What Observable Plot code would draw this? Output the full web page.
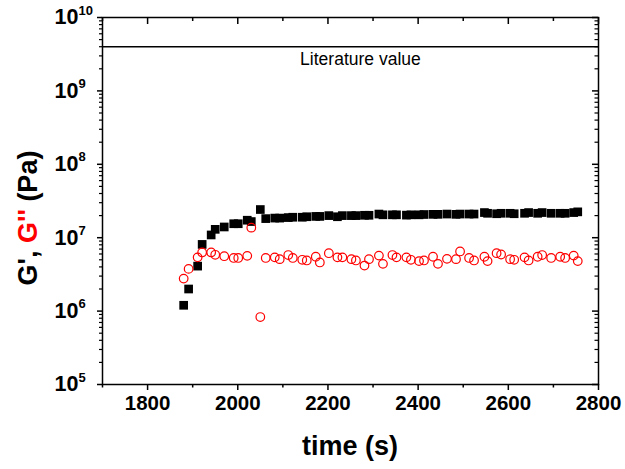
<!DOCTYPE html>
<html><head><meta charset="utf-8">
<script src="https://cdn.jsdelivr.net/npm/d3@7"></script>
<script src="https://cdn.jsdelivr.net/npm/@observablehq/plot@0.6"></script>
<style>
body{margin:0;background:#fff;}
#chart svg{font-family:"Liberation Sans",Arial,sans-serif;background:#fff;}
</style></head><body><div id="chart"></div>
<script>
const times = [1880,1891,1911,1921,1941,1950,1970,1991,2001,2021,2030,2050,
  2062,2082,2093,2112,2122,2143,2153,2173,2182,2202,2221,2232,2252,2262,2281,2291,2313,2322,2343,2352,2374,2384,2402,2413,2433,2444,2464,2484,2493,2513,2524,2547,2554,2574,2584,2604,2613,2636,2645,2665,2675,2695,2715,2726,2745,2754];
const gPrime = [1.2e6,2.0e6,4.1e6,8.1e6,1.09e7,1.3e7,1.4e7,1.55e7,1.55e7,1.73e7,1.66e7,2.42e7,
  1.82e7,1.85e7,1.85e7,1.88e7,1.9e7,1.9e7,1.93e7,1.95e7,1.95e7,2.0e7,1.93e7,2.0e7,2.0e7,2.0e7,2.02e7,2.02e7,2.1e7,2.05e7,2.05e7,2.05e7,2.03e7,2.05e7,2.05e7,2.07e7,2.08e7,2.08e7,2.1e7,2.08e7,2.1e7,2.1e7,2.1e7,2.2e7,2.15e7,2.12e7,2.15e7,2.15e7,2.12e7,2.15e7,2.2e7,2.15e7,2.2e7,2.15e7,2.15e7,2.15e7,2.2e7,2.25e7];
const gDoublePrime = [2.77e6,3.76e6,5.4e6,6.3e6,6.3e6,5.85e6,5.6e6,5.3e6,5.3e6,5.66e6,1.37e7,8.3e5,
  5.3e6,5.4e6,5.1e6,5.8e6,5.3e6,5.0e6,4.9e6,5.5e6,4.6e6,6.15e6,5.4e6,5.4e6,5.1e6,4.9e6,4.17e6,5.1e6,5.7e6,4.4e6,5.8e6,5.4e6,5.4e6,5.0e6,4.8e6,4.9e6,5.5e6,4.4e6,5.15e6,5.1e6,6.5e6,5.3e6,4.9e6,5.5e6,4.8e6,6.15e6,5.9e6,5.1e6,5.0e6,5.4e6,4.9e6,5.5e6,5.8e6,5.3e6,5.5e6,5.3e6,5.7e6,4.8e6];
const literatureValue = 4e9;
const literatureLabel = "Literature value";
const literatureLabelTime = 2272;
const majorY = [1e5,1e6,1e7,1e8,1e9,1e10];
const minorY = [];
for (const m of majorY.slice(0, -1)) for (let k = 2; k <= 9; k++) minorY.push(m * k);
const majorX = [1800,2000,2200,2400,2600,2800];
const minorX = [1700,1900,2100,2300,2500,2700];
const xTitle = "time (s)";

const data = times.map((t, i) => ({t, gp: gPrime[i], gpp: gDoublePrime[i]}));

const W = 625, H = 469, mL = 102, mR = 27, mT = 17, mB = 85;
const pw = W - mL - mR, ph = H - mT - mB;

const chart = Plot.plot({
  width: W, height: H,
  marginLeft: mL, marginRight: mR, marginTop: mT, marginBottom: mB,
  style: {fontFamily: '"Liberation Sans", Arial, sans-serif', color: "black"},
  x: {type: "linear", domain: [1700, 2800]},
  y: {type: "log", domain: [1e5, 1e10]},
  marks: [
    Plot.ruleY([literatureValue], {stroke: "black", strokeWidth: 1.5}),
    Plot.text([literatureLabel], {x: literatureLabelTime, y: literatureValue, text: d => d, dy: 13, fontSize: 17.5, lineAnchor: "middle", fill: "black"}),
    Plot.dot(data, {x: "t", y: "gp", symbol: "square", fill: "black", r: 4.9}),
    Plot.dot(data, {x: "t", y: "gpp", symbol: "circle", stroke: "#ff0000", fill: "none", r: 4.3, strokeWidth: 1.2}),
    // inward ticks on top and right
    Plot.ruleX(majorX, {stroke: "black", strokeWidth: 1.5, insetBottom: ph - 7}),
    Plot.ruleX(minorX, {stroke: "black", strokeWidth: 1.5, insetBottom: ph - 4}),
    Plot.ruleY(majorY, {stroke: "black", strokeWidth: 1.5, insetLeft: pw - 6}),
    Plot.ruleY(minorY, {stroke: "black", strokeWidth: 1.2, insetLeft: pw - 3.5}),
    // outward ticks left and bottom
    Plot.axisY({ticks: majorY, tickSize: 5, tickFormat: () => "", label: null, strokeWidth: 1.5}),
    Plot.axisY({ticks: minorY, tickSize: 3, tickFormat: () => "", label: null, strokeWidth: 1.2}),
    Plot.axisX({ticks: majorX, tickSize: 6, tickPadding: 5, tickFormat: d => String(d), label: null, fontSize: 20.5, fontWeight: "bold", strokeWidth: 1.5}),
    Plot.axisX({ticks: minorX, tickSize: 3.5, tickFormat: () => "", label: null, strokeWidth: 1.5}),
    // y tick labels 10^n
    Plot.text(majorY, {y: d => d, text: () => "10", frameAnchor: "left", textAnchor: "end", dx: -24, fontSize: 21.5, fontWeight: "bold", lineAnchor: "middle", fill: "black"}),
    Plot.text(majorY, {y: d => d, text: d => String(Math.round(Math.log10(d))), frameAnchor: "left", textAnchor: "start", dx: -24, dy: -7, fontSize: 13, fontWeight: "bold", lineAnchor: "middle", fill: "black"}),
    Plot.frame({stroke: "black", strokeWidth: 1.5})
  ]
});

const svg = d3.select(chart);
svg.append("text")
  .attr("x", mL + pw / 2).attr("y", 455)
  .attr("text-anchor", "middle")
  .attr("font-size", 27).attr("font-weight", "bold").attr("fill", "black")
  .text(xTitle);
const yt = svg.append("text")
  .attr("transform", `translate(37,218) rotate(-90)`)
  .attr("text-anchor", "middle")
  .attr("font-size", 27).attr("font-weight", "bold").attr("fill", "black");
yt.append("tspan").text("G', ");
yt.append("tspan").attr("fill", "#ff0000").text("G''");
yt.append("tspan").text(" (Pa)");

document.getElementById("chart").appendChild(chart);
</script></body></html>
